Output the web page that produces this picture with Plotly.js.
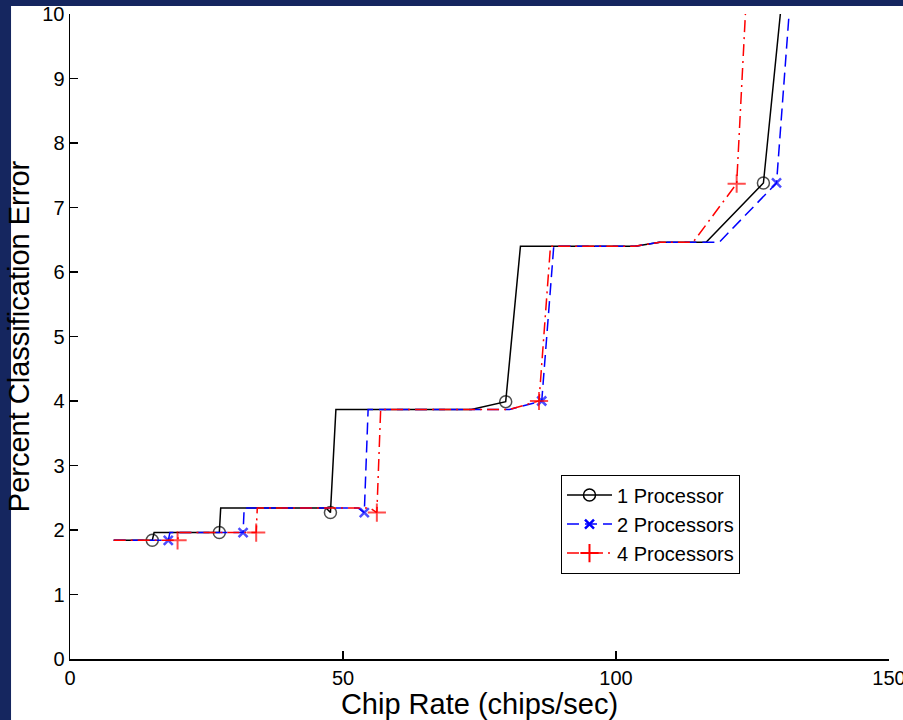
<!DOCTYPE html>
<html>
<head>
<meta charset="utf-8">
<script src="https://cdn.plot.ly/plotly-3.0.1.min.js"></script>
<style>
  html, body { margin: 0; padding: 0; background: #15265f; }
  #chart { width: 903px; height: 720px; }
</style>
</head>
<body>
<div id="chart"></div>
<script>
// Series: 1 Processor
const x1 = [8, 15.07, 15.4, 27.35, 27.6, 46.9, 47.7, 48.7, 73.5, 79.8, 82.5, 103.5, 108, 116.5, 127, 130.1];
const y1 = [1.84, 1.84, 1.96, 1.96, 2.34, 2.34, 2.27, 3.87, 3.87, 3.99, 6.40, 6.40, 6.46, 6.46, 7.38, 10];
const m1 = [0, 1, 0, 1, 0, 0, 1, 0, 0, 1, 0, 0, 0, 0, 1, 0];

// Series: 2 Processors
const x2 = [8, 18.0, 18.3, 31.7, 31.9, 52.8, 53.9, 54.6, 80.5, 86.4, 88.6, 103.5, 108, 118.9, 129.4, 131.7];
const y2 = [1.84, 1.84, 1.96, 1.96, 2.34, 2.34, 2.27, 3.87, 3.87, 4.0, 6.40, 6.40, 6.46, 6.46, 7.38, 10];
const m2 = [0, 1, 0, 1, 0, 0, 1, 0, 0, 1, 0, 0, 0, 0, 1, 0];

// Series: 4 Processors
const x4 = [8, 19.7, 20.0, 34.1, 34.3, 55.0, 56.2, 56.9, 80.5, 85.9, 88.0, 103.5, 108, 114.1, 122.1, 123.7];
const y4 = [1.84, 1.84, 1.96, 1.96, 2.34, 2.34, 2.27, 3.87, 3.87, 4.0, 6.40, 6.40, 6.46, 6.46, 7.37, 10];
const m4 = [0, 1, 0, 1, 0, 0, 1, 0, 0, 1, 0, 0, 0, 0, 1, 0];

const seriesNames = ['1 Processor', '2 Processors', '4 Processors'];
const xTicks = [0, 50, 100, 150];
const yTicks = [0, 1, 2, 3, 4, 5, 6, 7, 8, 9, 10];

const FONT = 'Liberation Sans, Arial, Helvetica, sans-serif';

const styles = [
  { line: { color: '#000000', width: 1.5 },
    marker: { symbol: 'circle-open', size: 12, color: '#000000', line: { width: 1.5, color: '#000000' } } },
  { line: { color: '#0000ff', width: 1.5, dash: '12px,6px' },
    marker: { symbol: 'x-thin-open', size: 9, color: '#0000ff', line: { width: 2.5, color: '#0000ff' } } },
  { line: { color: '#ff0000', width: 1.5, dash: '12px,5px,2px,5px' },
    marker: { symbol: 'cross-thin-open', size: 13, color: '#ff0000', line: { width: 2, color: '#ff0000' } } }
];
const data = [[x1, y1, m1], [x2, y2, m2], [x4, y4, m4]];

const traces = [];
data.forEach((d, i) => {
  const st = styles[i];
  traces.push({
    x: d[0], y: d[1], name: seriesNames[i], type: 'scatter', mode: 'lines+markers',
    legendgroup: 'g' + i, showlegend: false,
    line: st.line,
    marker: Object.assign({}, st.marker, { size: d[2].map(v => v ? st.marker.size : 0) })
  });
});
data.forEach((d, i) => {
  const st = styles[i];
  traces.push({
    x: [null], y: [null], name: seriesNames[i], type: 'scatter', mode: 'lines+markers',
    legendgroup: 'g' + i, showlegend: true,
    line: st.line, marker: st.marker
  });
});

const layout = {
  width: 903, height: 720,
  paper_bgcolor: '#15265f',
  plot_bgcolor: '#ffffff',
  margin: { l: 70, r: 14, t: 14, b: 61 },
  font: { family: FONT, color: '#000000', size: 20 },
  showlegend: true,
  legend: {
    x: 0.5995, y: 0.286, xanchor: 'left', yanchor: 'top',
    bgcolor: '#ffffff', bordercolor: '#000000', borderwidth: 1,
    font: { family: FONT, size: 20, color: '#000000' },
    itemwidth: 45,
    tracegroupgap: 0
  },
  shapes: [
    { type: 'rect', xref: 'paper', yref: 'paper', x0: -0.072, x1: 1.05, y0: -0.2, y1: 1.0124,
      fillcolor: '#ffffff', line: { width: 0 }, layer: 'below' }
  ],
  xaxis: {
    range: [0, 150], tickvals: xTicks, ticktext: xTicks.map(String),
    showline: true, linecolor: '#000000', linewidth: 1.5, mirror: false,
    ticks: 'inside', ticklen: 8, tickwidth: 1.5, tickcolor: '#000000',
    showgrid: false, zeroline: false, ticklabeloverflow: 'allow',
    tickfont: { family: FONT, size: 20, color: '#000000' },
    title: { text: 'Chip Rate (chips/sec)', font: { family: FONT, size: 29, color: '#000000' }, standoff: 3 }
  },
  yaxis: {
    range: [0, 10], tickvals: yTicks, ticktext: yTicks.map(String),
    showline: true, linecolor: '#000000', linewidth: 1.5, mirror: false,
    ticks: 'inside', ticklen: 8, tickwidth: 1.5, tickcolor: '#000000',
    showgrid: false, zeroline: false, ticklabeloverflow: 'allow',
    tickfont: { family: FONT, size: 20, color: '#000000' },
    title: { text: 'Percent Classification Error', font: { family: FONT, size: 29, color: '#000000' }, standoff: 4 }
  }
};

Plotly.newPlot('chart', traces, layout, { displayModeBar: false, staticPlot: true });
</script>
</body>
</html>
